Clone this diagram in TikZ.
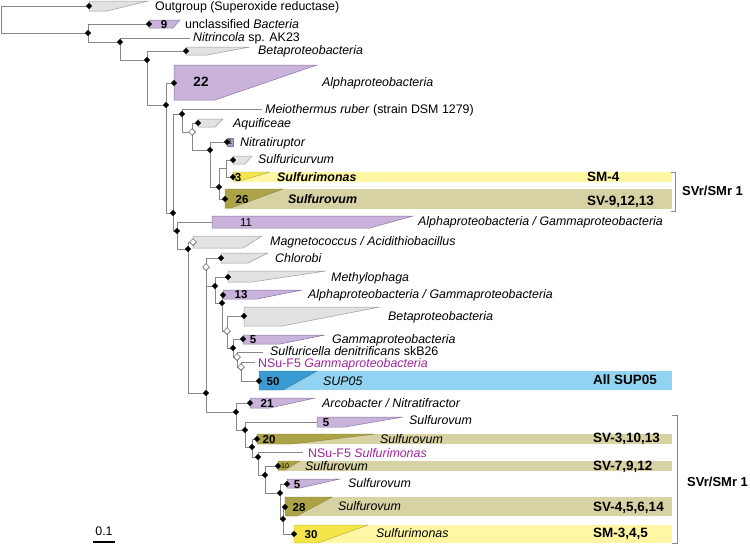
\documentclass[tikz,border=0pt]{standalone}
\usepackage{fontspec}
\setmainfont{Liberation Sans}
\usetikzlibrary{shapes.geometric}
\definecolor{linegray}{HTML}{888888}
\definecolor{cladegray}{HTML}{E2E2E2}
\definecolor{cladegrayd}{HTML}{9C9C9C}
\definecolor{lilac}{HTML}{C9B3DA}
\definecolor{lilacd}{HTML}{8A76A3}
\definecolor{paleyel}{HTML}{FFF7A3}
\definecolor{yel}{HTML}{F3E54A}
\definecolor{paleolive}{HTML}{D7D2A3}
\definecolor{olive}{HTML}{ABA346}
\definecolor{paleblue}{HTML}{92D3F1}
\definecolor{supblue}{HTML}{3A9BD2}
\definecolor{nsu}{HTML}{A1239E}

\begin{document}
\begin{tikzpicture}[x=1pt, y=-1pt,
  branch/.style={draw=linegray, line width=0.8pt},
  sup/.style={diamond, fill=black, inner sep=0pt, minimum size=6.5pt},
  supopen/.style={diamond, draw=black!75, fill=white, line width=0.5pt,
    inner sep=0pt, minimum size=7pt},
  cgray/.style={fill=cladegray, draw=cladegrayd, line width=0.5pt},
  clilac/.style={fill=lilac, draw=lilacd, line width=0.5pt},
  cyel/.style={fill=yel, draw=olive, line width=0.4pt},
  colive/.style={fill=olive, draw=olive!80!black, line width=0.4pt},
  cblue/.style={fill=supblue, draw=supblue!80!black, line width=0.4pt},
  lbl/.style={anchor=west, inner sep=0pt, text height=8.8pt, text depth=0pt,
    font=\fontsize{12.4}{14}\selectfont},
  tag/.style={anchor=west, inner sep=0pt, text height=9.7pt, text depth=0pt,
    font=\fontsize{13.5}{15}\selectfont\bfseries},
  num/.style={inner sep=0pt, text height=8pt, text depth=0pt,
    font=\fontsize{11.5}{12}\selectfont\bfseries}]
\useasboundingbox (0,0) rectangle (750,546);

% internal nodes
\coordinate (root) at (1,19);
\coordinate (nA) at (88,33);
\coordinate (nB) at (120,42);
\coordinate (nC) at (147,60);
\coordinate (nD) at (166,105);
\coordinate (nE) at (173,213);
\coordinate (nF) at (182,114);
\coordinate (nH) at (192,132);
\coordinate (nI) at (210,150);
\coordinate (nJ) at (219,187);
\coordinate (nK) at (226,168);
\coordinate (nG) at (177,231);
\coordinate (nL) at (188,249);
\coordinate (nM) at (206,393);
\coordinate (nN) at (206,267);
\coordinate (nO) at (215,286);
\coordinate (nP) at (222,303);
\coordinate (nQ) at (227,331);
\coordinate (nS) at (233,348);
\coordinate (nT) at (237,357);
\coordinate (nU) at (241,367);
\coordinate (nV) at (236,412);
\coordinate (nW) at (245,430);
\coordinate (nX) at (252,447);
\coordinate (nY) at (258,457);
\coordinate (nZ) at (265,475);
\coordinate (nAA) at (280,493);
\coordinate (nAB) at (283,519);

% leaves
\coordinate (outg) at (89,6);
\coordinate (uncl) at (149,24);
\coordinate (nitrin) at (190,38);
\coordinate (betaA) at (186,51);
\coordinate (alphaA) at (174,83);
\coordinate (meio) at (262,109);
\coordinate (aquif) at (198,123);
\coordinate (nitrat) at (227,142);
\coordinate (sfcurv) at (233,160);
\coordinate (sfmon) at (233,177);
\coordinate (sfov) at (225,199);
\coordinate (algaA) at (212,222);
\coordinate (magn) at (193,242);
\coordinate (chlor) at (221,258);
\coordinate (methyl) at (228,277);
\coordinate (algaB) at (223,295);
\coordinate (betaB) at (244,316);
\coordinate (gamma) at (243,339);
\coordinate (sfella) at (263,352);
\coordinate (nsugam) at (255,362);
\coordinate (sup) at (259,381);
\coordinate (arco) at (250,403);
\coordinate (sovA) at (317,422);
\coordinate (sovB) at (257,439);
\coordinate (nsusm) at (303,452);
\coordinate (sovC) at (278,466);
\coordinate (sovD) at (287,484);
\coordinate (sovE) at (285,507);
\coordinate (smon) at (294,534);

% colour bands
\fill[paleyel] (233,172) rectangle (672,182);
\fill[paleolive] (225,189) rectangle (672,209);
\fill[paleblue] (259,371) rectangle (672,390);
\fill[paleolive] (257,434) rectangle (672,444);
\fill[paleolive] (278,461) rectangle (672,471);
\fill[paleolive] (285,497) rectangle (672,516);
\fill[paleyel] (294,525) rectangle (672,543);

% collapsed clades
\draw[cgray] (89,1) -- (148,1) -- (107,11) -- (89,11) -- cycle;
\draw[clilac] (149,20) -- (180,20) -- (173,28) -- (149,28) -- cycle;
\draw[cgray] (186,47) -- (250,47) -- (207,55) -- (186,55) -- cycle;
\draw[clilac] (174,65) -- (317,65) -- (215,100) -- (174,100) -- cycle;
\draw[cgray] (198,119) -- (223,119) -- (215,127) -- (198,127) -- cycle;
\draw[clilac, fill=lilacd!70] (227,138) rectangle (233,146);
\draw[cgray] (233,156) -- (252,156) -- (245,164) -- (233,164) -- cycle;
\draw[cyel] (233,172) -- (270,172) -- (240,181) -- (233,181) -- cycle;
\draw[colive] (225,189) -- (283,189) -- (231,208) -- (225,208) -- cycle;
\draw[clilac] (212,216) -- (413,216) -- (370,228) -- (212,228) -- cycle;
\draw[cgray] (193,236) -- (262,236) -- (243,248) -- (193,248) -- cycle;
\draw[cgray] (221,253) -- (268,253) -- (248,263) -- (221,263) -- cycle;
\draw[cgray] (228,271) -- (326,271) -- (252,282) -- (228,282) -- cycle;
\draw[clilac] (223,290) -- (302,290) -- (257,299) -- (223,299) -- cycle;
\draw[cgray] (244,307) -- (380,307) -- (282,326) -- (244,326) -- cycle;
\draw[clilac] (243,335) -- (325,335) -- (280,344) -- (243,344) -- cycle;
\draw[cblue] (259,371) -- (317,371) -- (283,390) -- (259,390) -- cycle;
\draw[clilac] (250,398) -- (315,398) -- (270,408) -- (250,408) -- cycle;
\draw[clilac] (317,417) -- (403,417) -- (345,427) -- (317,427) -- cycle;
\draw[colive] (257,434) -- (375,434) -- (292,444) -- (257,444) -- cycle;
\draw[colive] (278,461) -- (300,461) -- (285,470) -- (278,470) -- cycle;
\draw[clilac] (287,479) -- (340,479) -- (300,488) -- (287,488) -- cycle;
\draw[colive] (285,497) -- (332,497) -- (297,516) -- (285,516) -- cycle;
\draw[cyel] (294,525) -- (368,525) -- (318,543) -- (294,543) -- cycle;

% branches
\foreach \p/\c in {root/outg, root/nA, nA/uncl, nA/nB, nB/nitrin, nB/nC,
    nC/betaA, nC/nD, nD/alphaA, nD/nE, nE/nF, nE/nG, nF/meio, nF/nH,
    nH/aquif, nH/nI, nI/nitrat, nI/nJ, nJ/nK, nJ/sfov, nK/sfcurv, nK/sfmon,
    nG/algaA, nG/nL, nL/magn, nL/nM, nM/nN, nM/nV, nN/chlor, nN/nO,
    nO/methyl, nO/nP, nP/algaB, nP/nQ, nQ/betaB, nQ/nS, nS/gamma, nS/nT,
    nT/sfella, nT/nU, nU/nsugam, nU/sup, nV/arco, nV/nW, nW/sovA, nW/nX,
    nX/sovB, nX/nY, nY/nsusm, nY/nZ, nZ/sovC, nZ/nAA, nAA/sovD, nAA/nAB,
    nAB/sovE, nAB/smon}
  \draw[branch] (\p) |- (\c);

% support values
\foreach \n in {nA, nB, nC, nD, nE, nF, nI, nJ, nG, nL, nM, nO, nP, nS,
    nV, nW, nX, nY, nZ, nAA, nAB, outg, uncl, betaA, alphaA, aquif, nitrat,
    sfcurv, sfmon, sfov, chlor, methyl, algaB, betaB, gamma, sup, arco,
    sovB, sovC, sovD, sovE, smon}
  \node[sup] at (\n) {};
\foreach \n in {nH, nN, nQ, nT, nU, magn}
  \node[supopen] at (\n) {};

% clade sizes
\node[num] (k9) at (164,24) {9};
\node[num, font=\fontsize{13.5}{14}\selectfont\bfseries] (k22) at (201,82) {22};
\node[num, font=\fontsize{7}{8}\selectfont, text height=5pt] (k1) at (230,142) {1};
\node[num] (k3) at (238,177) {3};
\node[num] (k26) at (242,199) {26};
\node[num, font=\fontsize{11.5}{12}\selectfont] (k11) at (246,222) {11};
\node[num] (k13) at (241,294) {13};
\node[num] (k5a) at (253,339) {5};
\node[num] (k50) at (273,381) {50};
\node[num] (k21) at (267,403) {21};
\node[num] (k5b) at (326,422) {5};
\node[num] (k20) at (269,439) {20};
\node[num, font=\fontsize{7}{8}\selectfont, text height=5pt] (k10) at (285,466) {10};
\node[num] (k5c) at (297,484) {5};
\node[num] (k28) at (299,507) {28};
\node[num] (k30) at (311,534) {30};

% taxon labels
\node[lbl] (t1) at (155,6) {Outgroup (Superoxide reductase)};
\node[lbl] (t2) at (185,24) {unclassified \textit{Bacteria}};
\node[lbl] (t3) at (193,37) {\textit{Nitrincola} sp. AK23};
\node[lbl] (t4) at (258,50) {\textit{Betaproteobacteria}};
\node[lbl] (t5) at (322,82) {\textit{Alphaproteobacteria}};
\node[lbl] (t6) at (265,109) {\textit{Meiothermus ruber} (strain DSM 1279)};
\node[lbl] (t7) at (233,123) {\textit{Aquificeae}};
\node[lbl] (t8) at (240,142) {\textit{Nitratiruptor}};
\node[lbl] (t9) at (258,159) {\textit{Sulfuricurvum}};
\node[lbl] (t10) at (277,177) {\textbf{\textit{Sulfurimonas}}};
\node[lbl] (t11) at (288,199) {\textbf{\textit{Sulfurovum}}};
\node[lbl] (t12) at (418,221) {\textit{Alphaproteobacteria / Gammaproteobacteria}};
\node[lbl] (t13) at (270,241) {\textit{Magnetococcus / Acidithiobacillus}};
\node[lbl] (t14) at (275,258) {\textit{Chlorobi}};
\node[lbl] (t15) at (331,277) {\textit{Methylophaga}};
\node[lbl] (t16) at (308,294) {\textit{Alphaproteobacteria / Gammaproteobacteria}};
\node[lbl] (t17) at (388,316) {\textit{Betaproteobacteria}};
\node[lbl] (t18) at (332,339) {\textit{Gammaproteobacteria}};
\node[lbl] (t19) at (270,351) {\textit{Sulfuricella denitrificans} skB26};
\node[lbl, text=nsu] (t20) at (258,363) {NSu-F5 \textit{Gammaproteobacteria}};
\node[lbl] (t21) at (323,381) {\textit{SUP05}};
\node[lbl] (t22) at (322,403) {\textit{Arcobacter / Nitratifractor}};
\node[lbl] (t23) at (409,420) {\textit{Sulfurovum}};
\node[lbl] (t24) at (380,439) {\textit{Sulfurovum}};
\node[lbl, text=nsu] (t25) at (308,453) {NSu-F5 \textit{Sulfurimonas}};
\node[lbl] (t26) at (305,466) {\textit{Sulfurovum}};
\node[lbl] (t27) at (348,483) {\textit{Sulfurovum}};
\node[lbl] (t28) at (338,506) {\textit{Sulfurovum}};
\node[lbl] (t29) at (376,533) {\textit{Sulfurimonas}};

% group tags
\node[tag] (g1) at (587,177) {SM-4};
\node[tag] (g2) at (587,201) {SV-9,12,13};
\node[tag] (g3) at (593,380) {All SUP05};
\node[tag] (g4) at (593,438) {SV-3,10,13};
\node[tag] (g5) at (593,466) {SV-7,9,12};
\node[tag] (g6) at (593,507) {SV-4,5,6,14};
\node[tag] (g7) at (593,533) {SM-3,4,5};
\draw[linegray, line width=0.7pt] (671,172) -- (675,172) -- (675,211) -- (671,211);
\node[tag, font=\fontsize{13}{15}\selectfont\bfseries] (r1) at (682,191) {SVr/SMr 1};
\draw[linegray, line width=0.7pt] (672,415) -- (677,415) -- (677,543) -- (672,543);
\node[tag, font=\fontsize{13}{15}\selectfont\bfseries] (r2) at (687,482) {SVr/SMr 1};

% scale bar
\node[lbl, anchor=center] (sc) at (104,531) {0.1};
\draw[line width=2pt] (93,542) -- (115,542);
\end{tikzpicture}
\end{document}
